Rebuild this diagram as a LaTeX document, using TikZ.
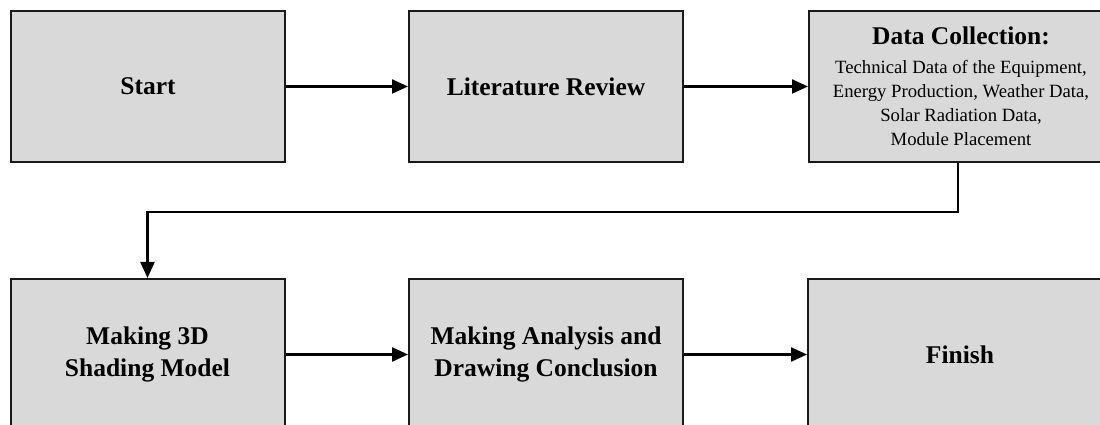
\documentclass[tikz,border=0pt]{standalone}
\usepackage{fontspec}
\setmainfont{Liberation Serif}
\usetikzlibrary{arrows.meta}
\definecolor{boxfill}{HTML}{D9D9D9}
\definecolor{boxline}{HTML}{1A1A1A}
\tikzset{
  stepbox/.style={draw=boxline, fill=boxfill, line width=2pt, minimum height=151pt,
    inner sep=0pt, align=center, font=\fontsize{25.5}{32}\selectfont\bfseries},
  flow/.style={draw=black, line width=2.3pt, -{Triangle[length=16pt,width=14pt]}},
}
\begin{document}
\begin{tikzpicture}[x=1pt,y=1pt]
\useasboundingbox (0,0) rectangle (1100,425);
\clip (0,0) rectangle (1100,425);
\node[stepbox, minimum width=274pt] (start) at (148,338.5) {Start};
\node[stepbox, minimum width=274pt] (lit) at (546,338.5) {Literature Review};
\node[stepbox, minimum width=304pt] (data) at (961,338.5) {Data Collection:\\[-3pt]
  {\fontsize{18.7}{22.5}\selectfont\mdseries Technical Data of the Equipment,}\\[-8pt]
  {\fontsize{18.7}{22.5}\selectfont\mdseries Energy Production, Weather Data,}\\[-8pt]
  {\fontsize{18.7}{22.5}\selectfont\mdseries Solar Radiation Data,}\\[-8pt]
  {\fontsize{18.7}{22.5}\selectfont\mdseries Module Placement}};
\node[stepbox, minimum width=274pt] (model) at (147.5,70.5) {Making 3D\\Shading Model};
\node[stepbox, minimum width=274pt] (anal) at (546,70.5) {Making Analysis and\\Drawing Conclusion};
\node[stepbox, minimum width=304pt] (finish) at (960,70.5) {Finish};
\coordinate (bend) at (958,213);
\draw[flow] (start.east) -- (lit.west);
\draw[flow] (lit.east) -- (data.west);
\draw[flow] (data.south -| bend) -- (bend) -| (model.north);
\draw[flow] (model.east) -- (anal.west);
\draw[flow] (anal.east) -- (finish.west);
\end{tikzpicture}
\end{document}
